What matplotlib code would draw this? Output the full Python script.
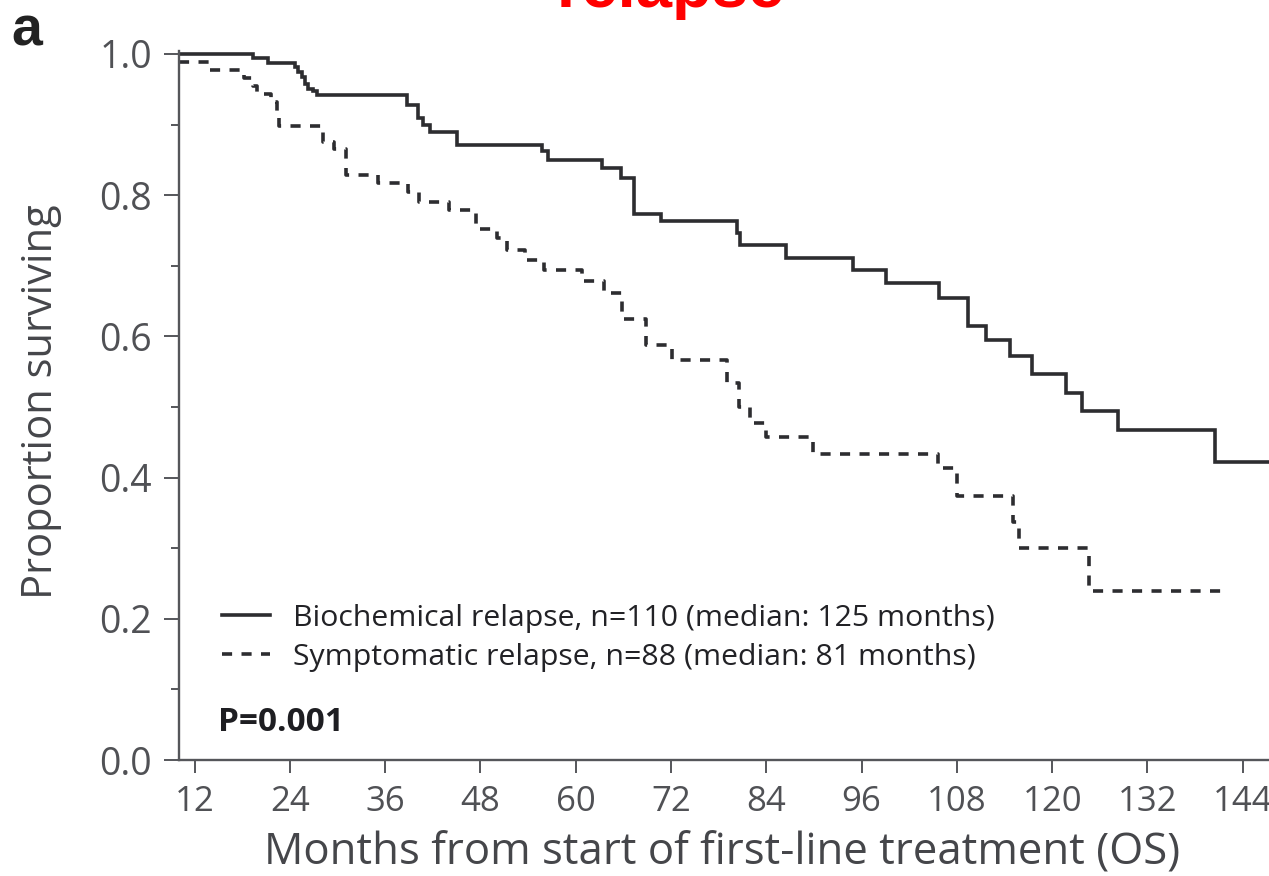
import matplotlib
matplotlib.use("Agg")
import matplotlib.pyplot as plt
from matplotlib.ticker import FixedLocator

plt.rcParams['font.family'] = ['Open Sans', 'DejaVu Sans']

# Kaplan-Meier step data (months, proportion surviving)
bio_t = [10.1, 19.4, 21.3, 24.6, 25.0, 25.5, 25.9, 26.3, 26.9, 27.4, 38.7, 40.1, 40.8, 41.7,
         45.0, 55.7, 56.5, 63.3, 65.7, 67.4, 70.8, 80.3, 80.7, 86.5, 94.9, 99.1, 105.8, 109.4,
         111.7, 114.7, 117.4, 121.8, 123.7, 128.3, 140.5, 147.3]
bio_s = [1.0, 0.994, 0.987, 0.982, 0.975, 0.968, 0.958, 0.951, 0.947, 0.942, 0.928, 0.909,
         0.899, 0.890, 0.871, 0.862, 0.850, 0.838, 0.824, 0.774, 0.763, 0.746, 0.729, 0.711,
         0.694, 0.675, 0.654, 0.615, 0.595, 0.572, 0.547, 0.520, 0.494, 0.467, 0.422, 0.422]

sym_t = [10.1, 13.9, 18.2, 19.4, 19.9, 21.6, 22.4, 22.7, 28.2, 29.5, 31.1, 35.1, 38.9, 40.3,
         44.0, 47.5, 50.1, 51.3, 53.6, 56.0, 60.8, 63.5, 65.8, 68.9, 72.1, 79.0, 80.5, 82.0,
         83.9, 89.9, 105.6, 108.0, 115.1, 115.8, 124.6, 142.0]
sym_s = [0.989, 0.977, 0.966, 0.955, 0.944, 0.932, 0.910, 0.898, 0.876, 0.866, 0.829, 0.817,
         0.804, 0.791, 0.779, 0.752, 0.739, 0.723, 0.708, 0.694, 0.678, 0.661, 0.624, 0.588,
         0.567, 0.534, 0.500, 0.478, 0.457, 0.433, 0.414, 0.374, 0.337, 0.301, 0.239, 0.239]

x_ticks = [12, 24, 36, 48, 60, 72, 84, 96, 108, 120, 132, 144]
y_ticks = [0.0, 0.2, 0.4, 0.6, 0.8, 1.0]
y_minor = [0.1, 0.3, 0.5, 0.7, 0.9]

bio_label = "Biochemical relapse, n=110 (median: 125 months)"
sym_label = "Symptomatic relapse, n=88 (median: 81 months)"
p_text = "P=0.001"

line_col = "#2d2d30"
axis_col = "#55565a"

fig = plt.figure(figsize=(12.69, 8.76), dpi=100)
ax = fig.add_axes([0.1414, 0.1324, 0.8586, 0.8092])

ax.step(bio_t, bio_s, where='post', color=line_col, lw=2.6, label=bio_label,
        solid_joinstyle='miter')
ax.step(sym_t, sym_s, where='post', color=line_col, lw=2.6, label=sym_label,
        linestyle=(0, (2.8, 2.6)), dash_capstyle='butt')

ax.set_xlim(10.1, 147.3)
ax.set_ylim(0, 1.004)

for s in ['top', 'right']:
    ax.spines[s].set_visible(False)
for s in ['left', 'bottom']:
    ax.spines[s].set_color(axis_col)
    ax.spines[s].set_linewidth(1.7)

ax.xaxis.set_major_locator(FixedLocator(x_ticks))
ax.yaxis.set_major_locator(FixedLocator(y_ticks))
ax.yaxis.set_minor_locator(FixedLocator(y_minor))
ax.set_yticklabels([f"{v:.1f}" for v in y_ticks])

ax.tick_params(axis='y', which='major', length=10.8, width=1.4, color=axis_col,
               labelsize=27, labelcolor='#505155', pad=9)
ax.tick_params(axis='y', which='minor', length=5.5, width=1.4, color=axis_col)
ax.tick_params(axis='x', which='major', length=9, width=1.4, color=axis_col,
               labelsize=25, labelcolor='#505155', pad=9)

ax.set_xlabel("Months from start of first-line treatment (OS)", fontsize=31.5,
              color='#45464a')
ax.xaxis.set_label_coords(0.498, -0.1007)
ax.set_ylabel("Proportion surviving", fontsize=30, color='#45464a')
ax.yaxis.set_label_coords(-0.108, 0.505)

leg = ax.legend(loc='upper left', bbox_to_anchor=(0.039, 0.220), frameon=False,
                fontsize=21.8, handlelength=1.6, handletextpad=0.75,
                labelspacing=0.32, borderpad=0, borderaxespad=0)
for t in leg.get_texts():
    t.set_color('#222226')

ax.text(0.0353, 0.0536, p_text, transform=ax.transAxes, fontsize=24,
        fontweight='bold', color='#1e1e22', va='center', ha='left')

fig.text(0.009, 1 - 45 / 876, "a", fontsize=40, fontweight='bold', color='#222222',
         family=['Liberation Sans', 'DejaVu Sans'], va='baseline', ha='left')
fig.text(785 / 1269, 1 - 7 / 876, "relapse", fontsize=47, fontweight='bold', color='#ff0000',
         family=['Liberation Sans', 'DejaVu Sans'], va='baseline', ha='right')

fig.savefig("out.png", dpi=100)
